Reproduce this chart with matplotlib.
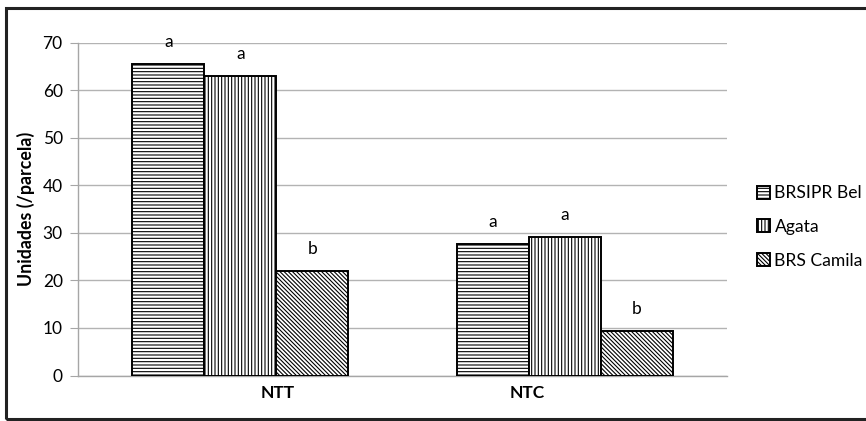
import matplotlib
matplotlib.use("Agg")
import matplotlib.pyplot as plt
from matplotlib.patches import Rectangle
import numpy as np

plt.rcParams['font.family'] = ['Lato', 'DejaVu Sans']
plt.rcParams['hatch.linewidth'] = 0.8
plt.rcParams['hatch.color'] = 'black'

categories = ["NTT", "NTC"]
series = ["BRSIPR Bel", "Agata", "BRS Camila"]
values = {
    "BRSIPR Bel": [65.5, 27.7],
    "Agata": [63.0, 29.1],
    "BRS Camila": [21.9, 9.3],
}
letters = {
    "BRSIPR Bel": ["a", "a"],
    "Agata": ["a", "a"],
    "BRS Camila": ["b", "b"],
}
hatches = ["-----", "|||||", "\\\\\\\\\\\\\\\\"]
yticks = [0, 10, 20, 30, 40, 50, 60, 70]

W, H = 866, 421
fig = plt.figure(figsize=(W / 100, H / 100), dpi=100)
ax = fig.add_axes([78 / W, 45.5 / H, (727 - 78) / W, (378.3 - 45.5) / H])

centers = np.array([0.5, 1.5])
bw = 0.222
offsets = [-bw, 0, bw]
for s, off, h in zip(series, offsets, hatches):
    bars = ax.bar(centers + off, values[s], width=bw, facecolor='white',
                  edgecolor='black', linewidth=1.4, hatch=h, label=s, zorder=3)
    for b, lab in zip(bars, letters[s]):
        ax.annotate(lab, (b.get_x() + b.get_width() / 2, b.get_height()),
                    xytext=(0, 10), textcoords='offset points',
                    ha='center', va='bottom', fontsize=12.5, color='black')

ax.set_xlim(0, 2)
ax.set_ylim(0, 70)
ax.set_yticks(yticks)
ax.set_yticklabels([str(t) for t in yticks], fontsize=12.5)
ax.yaxis.grid(True, color='#b3b3b3', linewidth=1.0, zorder=0)
ax.set_axisbelow(True)

label_pos = centers + np.array([0.116, -0.116])
ax.set_xticks(label_pos)
ax.set_xticklabels(categories, fontsize=12.5, fontweight='bold')
ax.tick_params(axis='x', length=0, pad=7)
ax.tick_params(axis='y', length=6, color='#a6a6a6', pad=5)

for sp in ['top', 'right']:
    ax.spines[sp].set_visible(False)
for sp in ['left', 'bottom']:
    ax.spines[sp].set_color('#a6a6a6')
    ax.spines[sp].set_linewidth(1.0)

ax.set_ylabel("Unidades (/parcela)", fontsize=12.8, fontweight='bold', va='center')
ax.yaxis.set_label_coords(-(78 - 26) / (727 - 78), 0.5)

leg = fig.legend(loc='center left', bbox_to_anchor=(757 / W, 1 - 227 / H),
                 frameon=False, fontsize=12.6, borderpad=0, borderaxespad=0,
                 handlelength=0.75, handleheight=0.75, handletextpad=0.25,
                 labelspacing=1.0)

fig.patches.append(Rectangle((6 / W, (H - 419) / H), 1.0, (419 - 7.5) / H,
                             transform=fig.transFigure, fill=False,
                             edgecolor='#222222', linewidth=2.2))

fig.savefig("out.png", dpi=100)
